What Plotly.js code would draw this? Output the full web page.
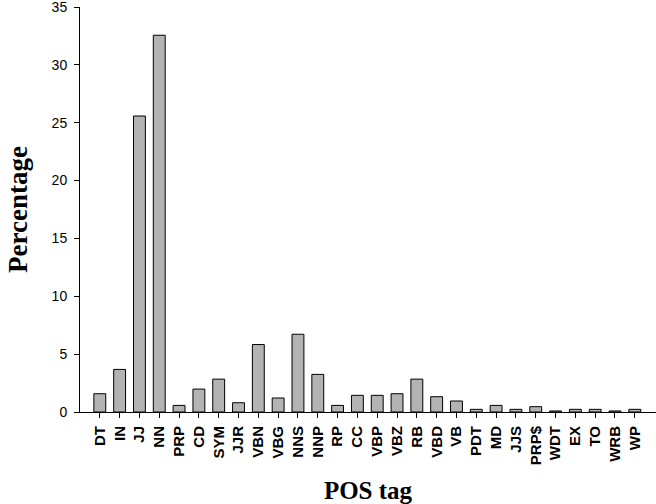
<!DOCTYPE html>
<html>
<head>
<meta charset="utf-8">
<script src="https://cdn.plot.ly/plotly-3.0.1.min.js"></script>
<style>html,body{margin:0;padding:0;background:#fff;}#chart{width:656px;height:504px;}</style>
</head>
<body>
<div id="chart"></div>
<script>
const tags = ["DT","IN","JJ","NN","PRP","CD","SYM","JJR","VBN","VBG","NNS","NNP","RP","CC","VBP","VBZ","RB","VBD","VB","PDT","MD","JJS","PRP$","WDT","EX","TO","WRB","WP"];
const percentages = [1.58,3.68,25.58,32.56,0.57,1.98,2.84,0.80,5.83,1.21,6.72,3.25,0.57,1.44,1.44,1.58,2.84,1.32,0.95,0.23,0.57,0.23,0.46,0.09,0.23,0.23,0.09,0.23];
const yTicks = [0,5,10,15,20,25,30,35];

const trace = {
  type: "bar",
  x: tags.map((t,i)=>i),
  y: percentages,
  width: 0.6,
  marker: {color: "#b3b3b3", line: {color: "#000", width: 1}},
  hoverinfo: "none"
};

const layout = {
  width: 656, height: 504,
  margin: {l: 80, r: 0, t: 7, b: 92, pad: 0},
  paper_bgcolor: "#fff", plot_bgcolor: "#fff",
  showlegend: false,
  xaxis: {
    range: [-1, 28.07],
    tickmode: "array",
    tickvals: tags.map((t,i)=>i),
    ticktext: tags,
    tickangle: -90,
    ticks: "outside", ticklen: 5, tickwidth: 1, tickcolor: "#000",
    ticklabelstandoff: 2,
    showline: true, linecolor: "#000", linewidth: 1,
    showgrid: false, zeroline: false,
    tickfont: {family: "Liberation Sans, Arial, sans-serif", size: 15, color: "#000", weight: "bold"},
    title: {text: "POS tag", font: {family: "Liberation Serif, Times New Roman, serif", size: 25, color: "#000", weight: "bold"}, standoff: 18},
    automargin: false
  },
  yaxis: {
    range: [0, 35],
    tickmode: "array",
    tickvals: yTicks,
    ticktext: yTicks.map(String),
    ticklabeloverflow: "allow",
    ticklabelstandoff: 4,
    ticks: "outside", ticklen: 5, tickwidth: 1, tickcolor: "#000",
    showline: true, linecolor: "#000", linewidth: 1,
    showgrid: false, zeroline: false,
    tickfont: {family: "Liberation Sans, Arial, sans-serif", size: 14, color: "#000"},
    title: {text: "Percentage", font: {family: "Liberation Serif, Times New Roman, serif", size: 27, color: "#000", weight: "bold"}, standoff: 16},
    automargin: false
  }
};

Plotly.newPlot("chart", [trace], layout, {displayModeBar: false, staticPlot: true});
</script>
</body>
</html>
